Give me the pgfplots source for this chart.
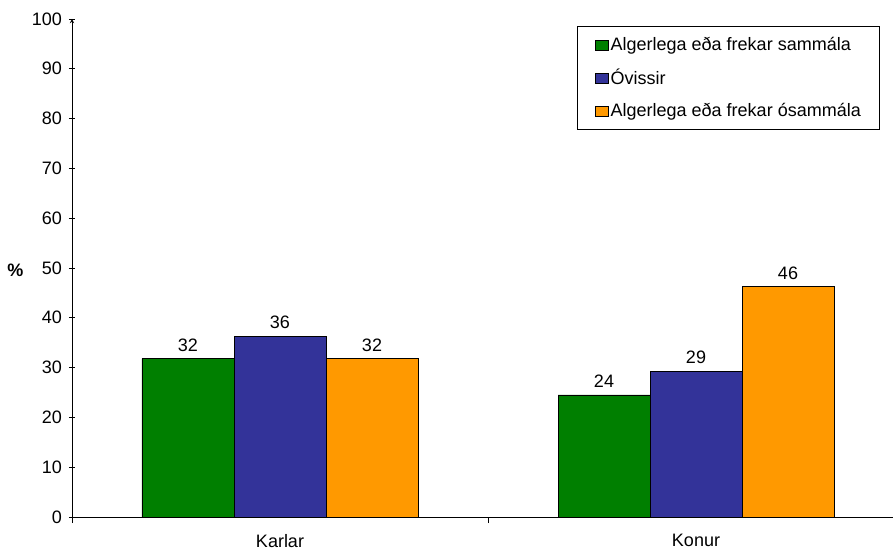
\documentclass[border=0pt]{standalone}
\usepackage{fontspec}
\setmainfont{Liberation Sans}
\usepackage{pgfplots}
\pgfplotsset{compat=1.18}
\definecolor{cgreen}{HTML}{007F00}
\definecolor{cblue}{HTML}{333399}
\definecolor{corange}{HTML}{FF9900}
\begin{document}
\fontsize{18}{21}\selectfont
\begin{tikzpicture}
\begin{axis}[
  name=a,
  scale only axis,
  width=832pt, height=498pt,
  xmin=-0.5, xmax=1.5,
  ymin=0, ymax=100,
  axis line style={-, line width=0.9pt},
  tick align=outside,
  tick style={draw=black, line width=0.9pt},
  major tick length=6pt,
  /pgf/number format/assume math mode=true,
  ticklabel style={font=\fontsize{18}{21}\selectfont},
  ytick={0,10,...,100},
  xtick={-0.5,0.5,1.5},
  xticklabels={Karlar,Konur},
  x tick label as interval,
  axis x line=bottom,
  axis y line=left,
  x tick label style={yshift=-5pt},
  y tick label style={xshift=-1pt},
  ylabel={\textbf{\%}},
  ylabel style={rotate=-90, at={(axis description cs:-0.068,0.496)}, anchor=center, font=\fontsize{18}{21}\selectfont},
  ybar=0pt,
  bar width=92pt,
  point meta=explicit symbolic,
  nodes near coords,
  nodes near coords style={font=\fontsize{18}{21}\selectfont, anchor=south, yshift=1pt},
  legend style={at={(axis description cs:0.6075,0.985)}, anchor=north west, draw=black, line width=0.9pt,
    font=\fontsize{18}{21}\selectfont, row sep=12pt, inner xsep=17pt, inner ysep=8pt, cells={anchor=west}},
  legend image code/.code={\draw[#1, line width=0.8pt] (0pt,-5pt) rectangle (13pt,5pt);},
]
\addplot[fill=cgreen, draw=black, line width=0.9pt] coordinates {(0,31.8) [32] (1,24.5) [24]};
\addplot[fill=cblue, draw=black, line width=0.9pt] coordinates {(0,36.3) [36] (1,29.3) [29]};
\addplot[fill=corange, draw=black, line width=0.9pt] coordinates {(0,31.8) [32] (1,46.2) [46]};
\legend{Algerlega eða frekar sammála,Óvissir,Algerlega eða frekar ósammála}
\end{axis}
\pgfresetboundingbox
\path ([xshift=-72pt,yshift=-35pt]a.south west) rectangle ([xshift=821pt,yshift=19pt]a.north west);
\end{tikzpicture}
\end{document}
